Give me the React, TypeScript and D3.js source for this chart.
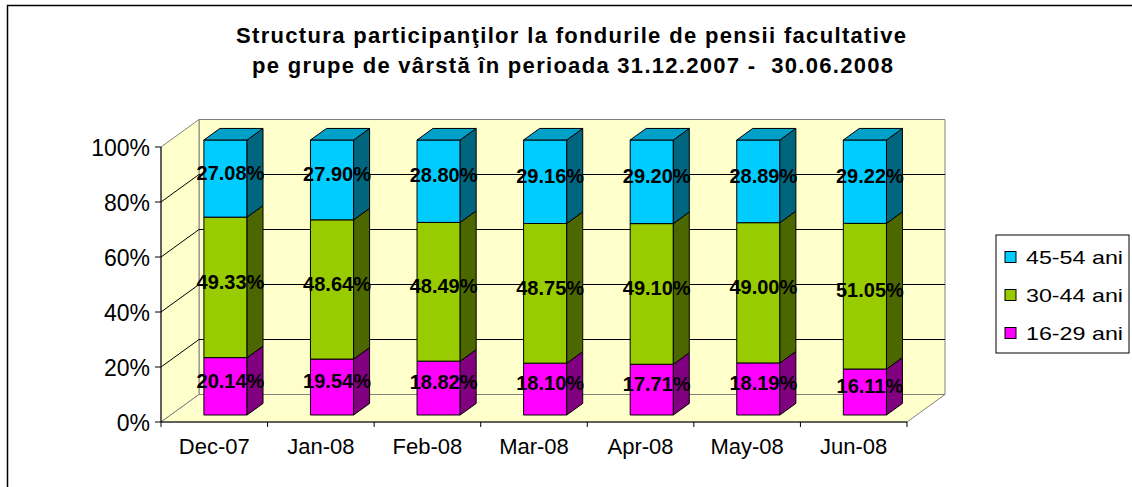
import React from 'react';
import * as d3 from 'd3';

const categories = ['Dec-07', 'Jan-08', 'Feb-08', 'Mar-08', 'Apr-08', 'May-08', 'Jun-08'];
const age1629 = [20.14, 19.54, 18.82, 18.1, 17.71, 18.19, 16.11];
const age3044 = [49.33, 48.64, 48.49, 48.75, 49.1, 49.0, 51.05];
const age4554 = [27.08, 27.9, 28.8, 29.16, 29.2, 28.89, 29.22];
const seriesNames = ['16-29 ani', '30-44 ani', '45-54 ani'];
const yTicks = [0, 0.2, 0.4, 0.6, 0.8, 1];
const titleLines = [
  'Structura participanţilor la fondurile de pensii facultative',
  'pe grupe de vârstă în perioada 31.12.2007 -  30.06.2008',
];

const colors = [
  { front: '#FF00FF', side: '#800080', top: '#CC00CC' },
  { front: '#99CC00', side: '#4C6600', top: '#7AA300' },
  { front: '#00CCFF', side: '#006680', top: '#00A0C8' },
];

const FONT = '"Liberation Sans", Arial, sans-serif';

export default function App() {
  const rows = categories.map((c, i) => ({
    cat: c,
    s0: age1629[i],
    s1: age3044[i],
    s2: age4554[i],
  }));
  const stack = d3.stack<any>().keys(['s0', 's1', 's2']).offset(d3.stackOffsetExpand);
  const stacked = stack(rows);

  const x = d3.scaleBand().domain(categories).range([161, 907]).padding(0);
  const y = d3.scaleLinear().domain([0, 1]).range([422, 147]);
  const DX = 38;
  const DY = 27.5;
  const t0 = 0.255;
  const t1 = 0.675;
  const barW = x.bandwidth() * 0.405;
  const barShift = 1.5;
  const fmt = d3.format('.0%');

  const P = (px: number, v: number, t: number): [number, number] => [px + t * DX, y(v) - t * DY];
  const poly = (pts: [number, number][]) => pts.map((p) => p.join(',')).join(' ');

  const xl = 161;
  const xr = 907;
  const wallFill = '#FFFFCC';
  const gray = '#808080';

  const walls = (
    <g>
      <polygon points={poly([P(xl, 0, 1), P(xr, 0, 1), P(xr, 1, 1), P(xl, 1, 1)])} fill={wallFill} stroke={gray} />
      <polygon points={poly([P(xl, 0, 0), P(xl, 0, 1), P(xl, 1, 1), P(xl, 1, 0)])} fill={wallFill} stroke={gray} />
      <polygon points={poly([P(xl, 0, 0), P(xl, 0, 1), P(xr, 0, 1), P(xr, 0, 0)])} fill={wallFill} stroke={gray} />
      {yTicks.filter((v) => v > 0 && v < 1).map((v) => (
        <g key={v}>
          <line x1={P(xl, v, 0)[0]} y1={P(xl, v, 0)[1]} x2={P(xl, v, 1)[0]} y2={P(xl, v, 1)[1]} stroke="#000" />
          <line x1={P(xl, v, 1)[0]} y1={P(xl, v, 1)[1]} x2={P(xr, v, 1)[0]} y2={P(xr, v, 1)[1]} stroke="#000" />
        </g>
      ))}
    </g>
  );

  const bars = categories.map((c, i) => {
    const cx = (x(c) as number) + x.bandwidth() / 2 + barShift;
    const left = cx - barW / 2;
    const right = cx + barW / 2;
    return (
      <g key={c}>
        {stacked.map((s, si) => {
          const v0 = s[i][0];
          const v1 = s[i][1];
          const col = colors[si];
          const fl0 = P(left, v0, t0), fr0 = P(right, v0, t0), fr1 = P(right, v1, t0), fl1 = P(left, v1, t0);
          const br0 = P(right, v0, t1), br1 = P(right, v1, t1), bl1 = P(left, v1, t1);
          return (
            <g key={si}>
              <polygon points={poly([fl0, fr0, fr1, fl1])} fill={col.front} stroke="#000" strokeWidth={1} strokeLinejoin="round" />
              <polygon points={poly([fr0, br0, br1, fr1])} fill={col.side} stroke="#000" strokeWidth={1} strokeLinejoin="round" />
              {si === stacked.length - 1 && (
                <polygon points={poly([fl1, fr1, br1, bl1])} fill={col.top} stroke="#000" strokeWidth={1} strokeLinejoin="round" />
              )}
            </g>
          );
        })}
      </g>
    );
  });

  const rawSeries = [age1629, age3044, age4554];
  const labels = categories.map((c, i) => {
    const cx = (x(c) as number) + x.bandwidth() / 2;
    return stacked.map((s, si) => {
      const mid = (s[i][0] + s[i][1]) / 2;
      const [lx, ly] = P(cx, mid, (t0 + t1) / 2);
      return (
        <text
          key={c + si}
          x={lx - 1.5}
          y={ly}
          textAnchor="middle"
          dominantBaseline="central"
          fontFamily={FONT}
          fontWeight="bold"
          fontSize={20}
          fill="#000"
        >
          {rawSeries[si][i].toFixed(2) + '%'}
        </text>
      );
    });
  });

  const axes = (
    <g>
      <line x1={xl} y1={y(0)} x2={xl} y2={y(1)} stroke="#000" />
      {yTicks.map((v) => (
        <g key={v}>
          <line x1={xl - 6} y1={y(v)} x2={xl} y2={y(v)} stroke="#000" />
          <text x={150} y={y(v) + 1} textAnchor="end" dominantBaseline="central" fontFamily={FONT} fontSize={23} fill="#000">
            {fmt(v)}
          </text>
        </g>
      ))}
      <line x1={xl} y1={y(0)} x2={xr} y2={y(0)} stroke="#000" />
      {categories.map((c) => (
        <line key={'t' + c} x1={(x(c) as number)} y1={y(0)} x2={(x(c) as number)} y2={y(0) + 5} stroke="#000" />
      ))}
      <line x1={xr} y1={y(0)} x2={xr} y2={y(0) + 5} stroke="#000" />
      {categories.map((c) => (
        <text key={'l' + c} x={(x(c) as number) + x.bandwidth() / 2} y={454} textAnchor="middle" fontFamily={FONT} fontSize={22} fill="#000">
          {c}
        </text>
      ))}
    </g>
  );

  const legendOrder = [2, 1, 0];
  const legend = (
    <g>
      <rect x={996} y={235} width={133} height={118} fill="#fff" stroke="#000" />
      {legendOrder.map((si, k) => {
        const cy = 257 + k * 38;
        return (
          <g key={si}>
            <rect x={1005} y={cy - 5.5} width={11} height={11} fill={colors[si].front} stroke="#000" />
            <text x={1026} y={cy} dominantBaseline="central" fontFamily={FONT} fontSize={19} textLength={97} lengthAdjust="spacingAndGlyphs" fill="#000">
              {seriesNames[si]}
            </text>
          </g>
        );
      })}
    </g>
  );

  return (
    <svg width={1132} height={487} style={{ position: 'absolute', left: 0, top: 0, background: '#fff' }}>
      <rect x={0} y={0} width={1132} height={487} fill="#fff" />
      <rect x={7.5} y={5.5} width={1200} height={600} fill="none" stroke="#000" strokeWidth={1.5} />
      <text x={571} y={43} textAnchor="middle" fontFamily={FONT} fontWeight="bold" fontSize={22} textLength={670} lengthAdjust="spacing" fill="#000">
        {titleLines[0]}
      </text>
      <text x={572.5} y={73} textAnchor="middle" fontFamily={FONT} fontWeight="bold" fontSize={22} textLength={641} lengthAdjust="spacing" fill="#000" style={{ whiteSpace: 'pre' }}>
        {titleLines[1]}
      </text>
      {walls}
      {axes}
      {bars}
      {labels}
      {legend}
    </svg>
  );
}
